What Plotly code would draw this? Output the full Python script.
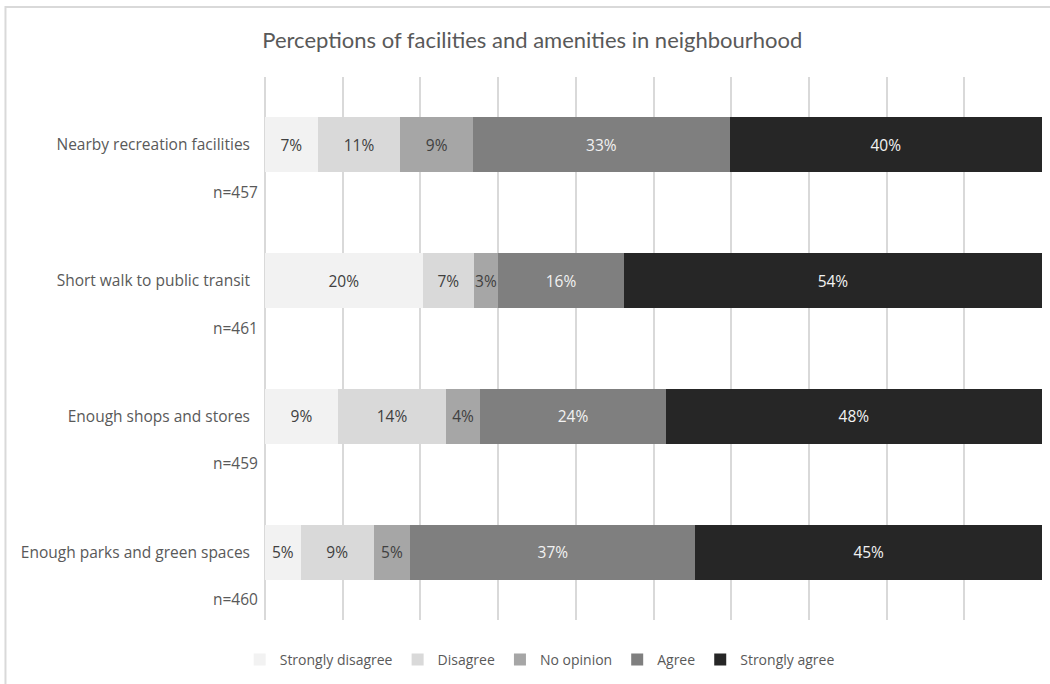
import plotly.graph_objects as go

categories = ["Nearby recreation facilities", "Short walk to public transit",
              "Enough shops and stores", "Enough parks and green spaces"]
sample_sizes = ["n=457", "n=461", "n=459", "n=460"]

series_names = ["Strongly disagree", "Disagree", "No opinion", "Agree", "Strongly agree"]
strongly_disagree = [6.8, 20.3, 9.4, 4.6]
disagree = [10.6, 6.6, 13.9, 9.4]
no_opinion = [9.4, 3.1, 4.4, 4.7]
agree = [33.0, 16.2, 23.9, 36.7]
strongly_agree = [40.2, 53.8, 48.4, 44.6]

series_values = [strongly_disagree, disagree, no_opinion, agree, strongly_agree]
colors = ["#F2F2F2", "#D9D9D9", "#A6A6A6", "#7F7F7F", "#262626"]
text_colors = ["#404040", "#404040", "#404040", "#F2F2F2", "#F2F2F2"]

FONT = "Open Sans"
TXT = "#595959"
LBL = 15.5

fig = go.Figure()
for name, vals, col, tcol in zip(series_names, series_values, colors, text_colors):
    fig.add_trace(go.Bar(
        y=categories, x=vals, name=name, orientation="h",
        marker=dict(color=col, line=dict(width=0)),
        texttemplate="%{x:.0f}%", textposition="inside", insidetextanchor="middle",
        textangle=0, constraintext="none",
        textfont=dict(family=FONT, size=LBL, color=tcol),
        hoverinfo="skip",
    ))

# n= labels under each category label
for cat, n in zip(categories, sample_sizes):
    fig.add_annotation(x=-0.007, xref="paper", y=cat, yref="y", yshift=-47,
                       text=n, showarrow=False, xanchor="right", yanchor="middle",
                       font=dict(family=FONT, size=LBL, color=TXT))

# chart-area frame (only top and left edges visible in the picture)
fig.add_shape(type="rect", xref="paper", yref="paper",
              x0=-0.334, x1=1.05, y0=-0.3, y1=1.1289,
              line=dict(color="#D9D9D9", width=2), fillcolor="rgba(0,0,0,0)", layer="below")

fig.update_layout(
    width=1050, height=684,
    margin=dict(l=265, r=8, t=77, b=64),
    paper_bgcolor="white", plot_bgcolor="white",
    barmode="stack", bargap=0.595,
    font=dict(family=FONT, size=LBL, color=TXT),
    title=dict(text="Perceptions of facilities and amenities in neighbourhood",
               x=0.507, xref="container", xanchor="center",
               y=1 - 40 / 684, yref="container", yanchor="middle",
               font=dict(family="Lato", size=22, color=TXT)),
    xaxis=dict(range=[0, 100], dtick=10, showticklabels=False, showgrid=True,
               gridcolor="#D9D9D9", gridwidth=1.5, zeroline=True,
               zerolinecolor="#D9D9D9", zerolinewidth=1.5, showline=False, fixedrange=True),
    yaxis=dict(autorange="reversed", showgrid=False, showline=False, ticks="",
               ticklabelstandoff=14, tickfont=dict(family=FONT, size=LBL, color=TXT),
               fixedrange=True),
    legend=dict(orientation="h", xref="container", x=0.514, xanchor="center",
                yref="container", y=1 - 660 / 684, yanchor="middle",
                font=dict(family=FONT, size=14, color=TXT), traceorder="normal",
                itemwidth=30, bgcolor="rgba(0,0,0,0)"),
    uniformtext=dict(mode=False),
)

fig.write_html("out.html")
